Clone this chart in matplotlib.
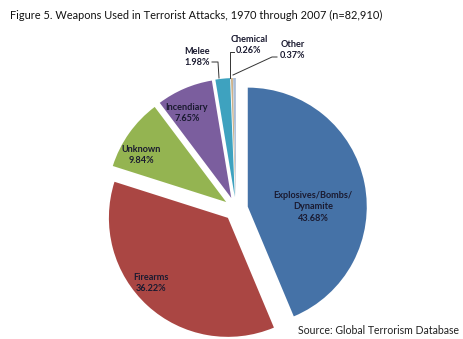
import matplotlib
matplotlib.use("Agg")
import matplotlib.pyplot as plt

# Weapon categories and their share of attacks (%)
categories = ["Explosives/Bombs/\nDynamite", "Firearms", "Unknown", "Incendiary",
              "Melee", "Chemical", "Other"]
shares = [43.68, 36.22, 9.84, 7.65, 1.98, 0.26, 0.37]
colors = ["#4572A7", "#AA4643", "#94B451", "#7B5E9E", "#3EA2BF", "#CDB28A", "#A9BCD6"]

title = "Figure 5. Weapons Used in Terrorist Attacks, 1970 through 2007 (n=82,910)"
source = "Source: Global Terrorism Database"

W, H = 464, 339
fig = plt.figure(figsize=(W / 100, H / 100), dpi=100)
ax = fig.add_axes([0, 0, 1, 1])

font = "Lato"
cx, cy, r = 236, H - 209, 119
gap = 12  # offset of every wedge from the centre, in axis units
wedges, _ = ax.pie(shares, colors=colors, startangle=90, counterclock=False,
                   center=(cx, cy), radius=r, explode=[gap] * len(shares),
                   wedgeprops=dict(linewidth=0), frame=True)
ax.set_xlim(0, W)
ax.set_ylim(0, H)
ax.set_aspect("equal")
ax.axis("off")

fig.text(10 / W, 1 - 15 / H, title, fontsize=7.9, family=font, ha="left", va="center",
         color="#111111")
fig.text(459 / W, 1 - 330 / H, source, fontsize=7.6, family=font, ha="right", va="center",
         color="#222222")

lab_kw = dict(fontsize=6.6, family=font, fontweight="bold", ha="center", va="center",
              multialignment="center", color="#1a1a30", linespacing=1.35)

def lbl(i):
    return f"{categories[i]}\n{shares[i]:.2f}%"

# labels inside the larger wedges
ax.text(313, H - 207, lbl(0), **lab_kw)
ax.text(151, H - 283, lbl(1), **lab_kw)
ax.text(141, H - 155, lbl(2), **lab_kw)
ax.text(187, H - 113, lbl(3), **lab_kw)

# outside labels with leader lines for the thin wedges
ax.text(197, H - 57, lbl(4), **lab_kw)
ax.text(249, H - 45, lbl(5), **lab_kw)
ax.text(293, H - 50, lbl(6), **lab_kw)
line_kw = dict(color="#333333", linewidth=0.7)
ax.plot([212, 218, 219], [H - 62, H - 62, H - 78], **line_kw)
ax.plot([234, 230, 230], [H - 52, H - 52, H - 78], **line_kw)
ax.plot([277, 272, 233], [H - 57, H - 57, H - 75], **line_kw)

fig.savefig("out.png", dpi=100)
